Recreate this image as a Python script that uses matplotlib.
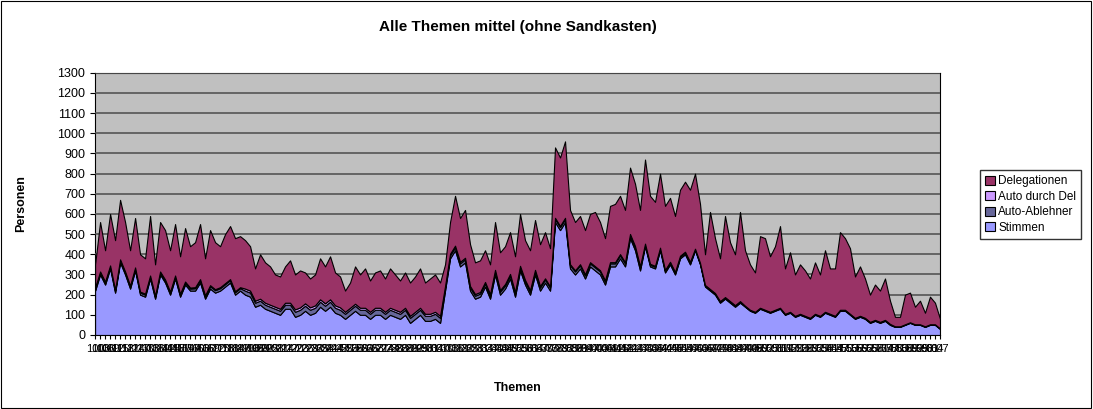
import matplotlib
matplotlib.use("Agg")
import matplotlib.pyplot as plt
import numpy as np

plt.rcParams['font.family'] = ['Liberation Sans', 'DejaVu Sans']

total = [350,560,420,600,470,670,560,420,580,400,
         380,590,350,560,520,420,550,390,530,440,
         460,550,380,520,460,440,500,540,480,490,
         470,440,330,400,360,340,300,290,340,370,
         300,320,310,280,300,380,340,390,310,290,
         220,260,340,300,330,270,310,320,280,330,
         300,270,310,260,290,330,260,280,300,260,
         350,560,690,580,620,450,360,370,420,350,
         560,410,440,510,390,600,470,420,570,450,
         510,430,930,880,960,620,560,590,520,600,
         610,560,480,640,650,690,620,830,750,620,
         870,690,660,800,640,680,590,720,760,720,
         800,650,400,610,480,380,590,460,400,610,
         420,350,310,490,480,390,440,540,330,410,
         300,350,320,280,360,300,420,330,330,510,
         480,430,290,340,280,200,250,220,280,170,
         90,90,200,210,140,170,110,190,160,80]
stimmen = [220,300,250,330,210,360,300,230,320,200,
           190,280,180,300,260,200,280,190,250,220,
           220,260,180,230,210,220,240,260,200,220,
           200,190,140,150,130,120,110,100,130,130,
           90,100,120,100,110,140,120,140,110,100,
           80,100,120,100,100,80,100,100,80,100,
           90,80,100,60,80,100,70,70,80,60,
           220,380,420,340,360,220,180,190,240,180,
           300,200,230,280,190,320,250,200,300,220,
           260,220,560,520,560,330,300,330,280,340,
           320,300,250,340,340,380,340,480,420,320,
           440,340,330,420,310,350,300,380,400,350,
           420,350,240,220,200,160,180,160,140,160,
           140,120,110,130,120,110,120,130,100,110,
           90,100,90,80,100,90,110,100,90,120,
           120,100,80,90,80,60,70,60,70,50,
           40,40,50,60,50,50,40,50,50,30]
ablehner_seg = [10,10,12,20,25,25,25,15,15,15,15,8,5,3,3,3,2]
durchdel_seg = [5,5,5,10,12,10,10,8,8,6,6,5,3,2,2,2,1]
ablehner = [v for v in ablehner_seg for _ in range(10)]
durchdel = [v for v in durchdel_seg for _ in range(10)]
deleg = [max(t - s - a - d, 0) for t, s, a, d in zip(total, stimmen, ablehner, durchdel)]
themen = [str(100 + 3 * i) for i in range(len(total))]

fig = plt.figure(figsize=(10.93, 4.09), dpi=100)
fig.patch.set_facecolor('white')
fig.add_artist(plt.Rectangle((0.001, 0.002), 0.997, 0.995, transform=fig.transFigure,
                             fill=False, edgecolor='black', lw=0.8))
ax = fig.add_axes([0.087, 0.181, 0.773, 0.641])
ax.set_facecolor('#C0C0C0')
x = np.arange(len(total))
labels = ['Stimmen', 'Auto-Ablehner', 'Auto durch Del', 'Delegationen']
colors = ['#9999FF', '#666699', '#CC99FF', '#993366']
polys = ax.stackplot(x, stimmen, ablehner, durchdel, deleg, colors=colors,
                     edgecolor='black', linewidth=0.8, labels=labels)
ax.set_xlim(0, len(total) - 1)
ax.set_ylim(0, 1300)
ax.set_yticks(range(0, 1301, 100))
ax.yaxis.grid(True, color='#555555', lw=1.2)
ax.set_axisbelow(False)
for p in polys:
    p.set_zorder(3)
ax.set_xticks(x)
ax.set_xticklabels(themen, fontsize=8, rotation=0)
ax.tick_params(axis='y', labelsize=9)
ax.tick_params(axis='x', length=3)
for s in ax.spines.values():
    s.set_color('black')
ax.set_title('Alle Themen mittel (ohne Sandkasten)', fontsize=11, fontweight='bold', pad=30)
ax.set_ylabel('Personen', fontsize=9, fontweight='bold', labelpad=22)
ax.set_xlabel('Themen', fontsize=9, fontweight='bold', labelpad=20)
h, l = ax.get_legend_handles_labels()
leg = fig.legend(h[::-1], l[::-1], loc='center', bbox_to_anchor=(0.943, 0.5), fontsize=8.5,
                 frameon=True, fancybox=False, edgecolor='black', handlelength=0.8,
                 handleheight=0.8, borderpad=0.4, labelspacing=0.3, handletextpad=0.3)
fig.savefig('out.png', dpi=100)
